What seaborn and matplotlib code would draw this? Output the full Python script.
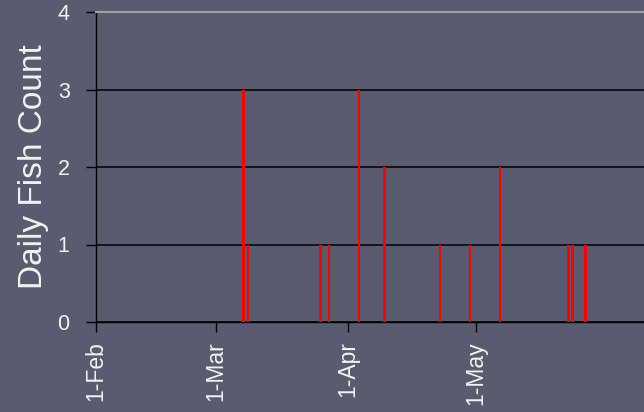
import pandas as pd
import seaborn as sns
import matplotlib
matplotlib.use('Agg')
import matplotlib.pyplot as plt
import matplotlib.dates as mdates

# Data
fish_dates = ['2007-03-07', '2007-03-08', '2007-03-25', '2007-03-27',
              '2007-04-03', '2007-04-09', '2007-04-22', '2007-04-29',
              '2007-05-06', '2007-05-22', '2007-05-23', '2007-05-26']
fish_counts = [3, 1, 1, 1, 3, 2, 1, 1, 2, 1, 1, 1]
month_ticks = ['2007-02-01', '2007-03-01', '2007-04-01', '2007-05-01']

bg = '#595c6e'
fg = '#f2f2f2'

# Setting plot properties.
sns.set_theme(style='white')
plt.rcParams['font.family'] = ['Liberation Sans', 'DejaVu Sans']

df = pd.DataFrame({'Date': pd.to_datetime(fish_dates), 'Count': fish_counts})
df['x'] = mdates.date2num(df['Date']) + 0.6

fig = plt.figure(figsize=(6.44, 4.12), dpi=100, facecolor=bg)
ax = fig.add_axes([96 / 644, 90 / 412, 1 - 96 / 644, 310 / 412])
ax.set_facecolor(bg)

sns.barplot(data=df, x='x', y='Count', native_scale=True, width=0.62,
            color='#ff0000', saturation=1, ax=ax, zorder=3, linewidth=0)

# Configuring axis.
start = mdates.date2num(pd.Timestamp('2007-02-01'))
ax.set_xlim(start, start + (644 - 96) / 4.27)
ax.set_ylim(0, 4)
ax.set_yticks([0, 1, 2, 3, 4])
ax.set_xticks(mdates.date2num(pd.to_datetime(month_ticks)))
ax.xaxis.set_major_formatter(mdates.DateFormatter('%-d-%b'))
ax.tick_params(axis='x', rotation=90, direction='out', length=7, width=1,
               color='black', pad=7, labelsize=16.5, labelcolor=fg, bottom=True)
ax.tick_params(axis='y', direction='out', length=7, width=1, color='black',
               pad=12, labelsize=15.5, labelcolor=fg, left=True)
for lbl in ax.get_xticklabels():
    lbl.set_va('top')
    lbl.set_ha('center')

ax.grid(axis='y', color='black', linewidth=1.1, zorder=1)
ax.grid(axis='x', visible=False)
for side in ['left', 'bottom']:
    ax.spines[side].set_color('black')
    ax.spines[side].set_linewidth(1)
ax.spines['top'].set_color('#a0a0a0')
ax.spines['top'].set_linewidth(1.5)
ax.spines['right'].set_visible(False)

ax.set_xlabel(None)
ax.set_ylabel('Daily Fish Count', fontsize=24, color=fg, labelpad=6)

# Saving the image.
fig.savefig('out.png', dpi=100, facecolor=bg)
